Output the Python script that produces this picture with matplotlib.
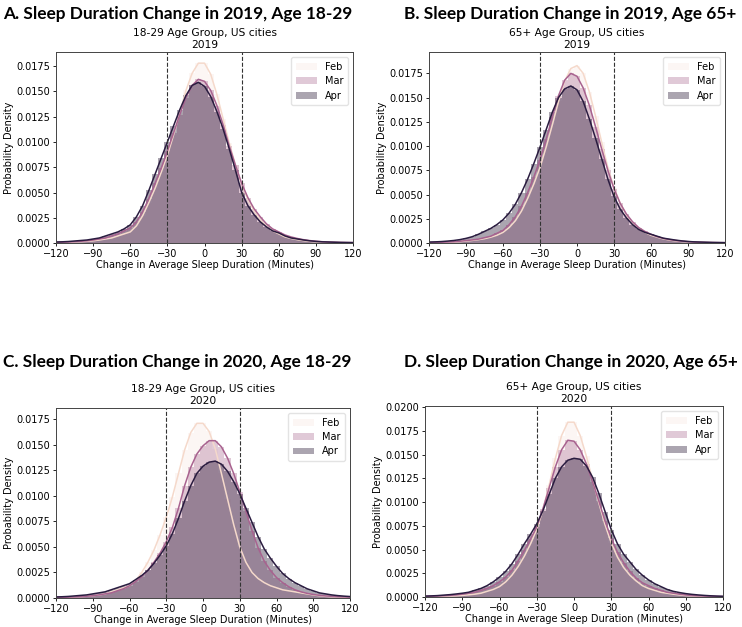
import numpy as np
import matplotlib
matplotlib.use('Agg')
import matplotlib.pyplot as plt

# 変化量（分）: -120〜120 を5分刻み
minutes = list(range(-120, 125, 5))

# ===== A: 2019, 18-29 =====
a_feb = [0.00005, 0.00006, 0.00008, 0.0001, 0.00013, 0.00017, 0.00022, 0.0003, 0.0004, 0.0005,
         0.0007, 0.0009, 0.0011, 0.0017, 0.0027, 0.0040, 0.0054, 0.0070, 0.0087, 0.0107,
         0.0129, 0.0151, 0.0168, 0.0178, 0.0178, 0.0167, 0.0147, 0.0123, 0.0099, 0.0077,
         0.0058, 0.0043, 0.0032, 0.0023, 0.0017, 0.0012, 0.0009, 0.0006, 0.00045, 0.00033,
         0.00024, 0.00017, 0.00012, 0.00009, 0.00007, 0.00005, 0.00004, 0.00003, 0.00003]
a_mar = [0.00006, 0.00008, 0.0001, 0.00013, 0.00017, 0.00022, 0.0003, 0.0004, 0.0005, 0.0007,
         0.0009, 0.0012, 0.0015, 0.0021, 0.0031, 0.0044, 0.0059, 0.0074, 0.0091, 0.0109,
         0.0127, 0.0144, 0.0156, 0.0162, 0.0160, 0.0151, 0.0136, 0.0117, 0.0096, 0.0077,
         0.0059, 0.0045, 0.0034, 0.0026, 0.0019, 0.0014, 0.0011, 0.0008, 0.0006, 0.00045,
         0.00033, 0.00024, 0.00018, 0.00013, 0.0001, 0.00008, 0.00006, 0.00005, 0.00004]
a_apr = [0.0001, 0.00012, 0.00015, 0.0002, 0.00025, 0.0003, 0.0004, 0.0005, 0.0007, 0.0009,
         0.0011, 0.0014, 0.0018, 0.0026, 0.0037, 0.0052, 0.0068, 0.0084, 0.0100, 0.0116,
         0.0132, 0.0146, 0.0156, 0.0159, 0.0155, 0.0145, 0.0130, 0.0113, 0.0093, 0.0072,
         0.0050, 0.0037, 0.0028, 0.0021, 0.0016, 0.0012, 0.0010, 0.0007, 0.0005, 0.0004,
         0.0003, 0.00022, 0.00016, 0.00012, 0.0001, 0.00008, 0.00006, 0.00005, 0.00004]

# ===== B: 2019, 65+ =====
b_feb = [0.00004, 0.00005, 0.00006, 0.00008, 0.0001, 0.00014, 0.0002, 0.00027, 0.00035, 0.00045,
         0.0006, 0.0008, 0.0011, 0.0016, 0.0023, 0.0033, 0.0046, 0.0061, 0.0078, 0.0099,
         0.0122, 0.0146, 0.0167, 0.0180, 0.0183, 0.0175, 0.0156, 0.0131, 0.0104, 0.0078,
         0.0057, 0.0041, 0.0029, 0.0021, 0.0015, 0.0011, 0.0008, 0.0006, 0.00043, 0.00031,
         0.00022, 0.00016, 0.00012, 0.00009, 0.00007, 0.00005, 0.00004, 0.00003, 0.00003]
b_mar = [0.00005, 0.00006, 0.00008, 0.0001, 0.00013, 0.00018, 0.00025, 0.00032, 0.0004, 0.00055,
         0.0007, 0.0010, 0.0013, 0.0019, 0.0027, 0.0038, 0.0052, 0.0068, 0.0086, 0.0107,
         0.0130, 0.0152, 0.0168, 0.0175, 0.0172, 0.0160, 0.0142, 0.0120, 0.0097, 0.0075,
         0.0056, 0.0041, 0.0030, 0.0022, 0.0016, 0.0012, 0.0009, 0.00065, 0.00048, 0.00035,
         0.00026, 0.00019, 0.00014, 0.0001, 0.00008, 0.00006, 0.00005, 0.00004, 0.00003]
b_apr = [0.0001, 0.00012, 0.00015, 0.0002, 0.00026, 0.00035, 0.00048, 0.00065, 0.0009, 0.0012,
         0.0015, 0.0019, 0.0024, 0.0031, 0.0040, 0.0052, 0.0066, 0.0082, 0.0099, 0.0117,
         0.0135, 0.0150, 0.0159, 0.0162, 0.0158, 0.0146, 0.0128, 0.0108, 0.0087, 0.0066,
         0.0048, 0.0035, 0.0026, 0.0019, 0.0014, 0.0011, 0.0009, 0.0007, 0.0005, 0.0004,
         0.0003, 0.00022, 0.00016, 0.00012, 0.0001, 0.00008, 0.00006, 0.00005, 0.00004]

# ===== C: 2020, 18-29 =====
c_feb = [0.00005, 0.00006, 0.00008, 0.0001, 0.00013, 0.00017, 0.00022, 0.0003, 0.0004, 0.0006,
         0.0008, 0.0010, 0.0012, 0.0017, 0.0025, 0.0035, 0.0047, 0.0062, 0.0079, 0.0099,
         0.0122, 0.0145, 0.0162, 0.0171, 0.0171, 0.0163, 0.0146, 0.0122, 0.0097, 0.0072,
         0.0050, 0.0035, 0.0025, 0.0019, 0.0015, 0.0012, 0.0010, 0.0008, 0.0007, 0.0006,
         0.0005, 0.0004, 0.0003, 0.00022, 0.00016, 0.00012, 0.0001, 0.00008, 0.00006]
c_mar = [0.00005, 0.00006, 0.00008, 0.0001, 0.00013, 0.00017, 0.00022, 0.0003, 0.0004, 0.0005,
         0.0007, 0.0009, 0.0012, 0.0016, 0.0021, 0.0027, 0.0035, 0.0044, 0.0055, 0.0069,
         0.0088, 0.0110, 0.0128, 0.0141, 0.0149, 0.0154, 0.0154, 0.0148, 0.0137, 0.0122,
         0.0104, 0.0085, 0.0066, 0.0049, 0.0036, 0.0027, 0.0020, 0.0015, 0.0011, 0.0008,
         0.0006, 0.00045, 0.00034, 0.00026, 0.0002, 0.00016, 0.00012, 0.0001, 0.00008]
c_apr = [0.0001, 0.00012, 0.00015, 0.0002, 0.00025, 0.0003, 0.0004, 0.0005, 0.0006, 0.0008,
         0.0010, 0.0012, 0.0014, 0.0018, 0.0022, 0.0027, 0.0034, 0.0042, 0.0051, 0.0063,
         0.0078, 0.0095, 0.0110, 0.0122, 0.0129, 0.0133, 0.0134, 0.0131, 0.0124, 0.0114,
         0.0102, 0.0088, 0.0074, 0.0060, 0.0048, 0.0039, 0.0031, 0.0024, 0.0019, 0.0015,
         0.0012, 0.0009, 0.0007, 0.0005, 0.0004, 0.0003, 0.00023, 0.00018, 0.00014]

# ===== D: 2020, 65+ =====
d_feb = [0.00004, 0.00005, 0.00006, 0.00008, 0.0001, 0.00013, 0.00017, 0.00023, 0.0003, 0.0004,
         0.0006, 0.0008, 0.0011, 0.0016, 0.0023, 0.0032, 0.0043, 0.0056, 0.0071, 0.0092,
         0.0118, 0.0146, 0.0170, 0.0184, 0.0184, 0.0170, 0.0148, 0.0123, 0.0099, 0.0076,
         0.0057, 0.0042, 0.0031, 0.0023, 0.0017, 0.0012, 0.0009, 0.0007, 0.0005, 0.0004,
         0.0003, 0.00022, 0.00016, 0.00012, 0.00009, 0.00007, 0.00005, 0.00004, 0.00003]
d_mar = [0.00006, 0.00008, 0.0001, 0.00013, 0.00017, 0.00022, 0.0003, 0.0004, 0.0005, 0.0007,
         0.0009, 0.0012, 0.0016, 0.0021, 0.0028, 0.0038, 0.0049, 0.0061, 0.0074, 0.0093,
         0.0115, 0.0137, 0.0155, 0.0165, 0.0164, 0.0155, 0.0140, 0.0121, 0.0101, 0.0080,
         0.0062, 0.0047, 0.0036, 0.0027, 0.0020, 0.0015, 0.0012, 0.0009, 0.0007, 0.0005,
         0.0004, 0.0003, 0.00022, 0.00016, 0.00012, 0.0001, 0.00008, 0.00006, 0.00005]
d_apr = [0.0001, 0.00012, 0.00015, 0.0002, 0.00025, 0.00032, 0.0004, 0.0005, 0.0007, 0.0009,
         0.0012, 0.0016, 0.0021, 0.0027, 0.0035, 0.0045, 0.0056, 0.0066, 0.0077, 0.0091,
         0.0108, 0.0125, 0.0137, 0.0144, 0.0146, 0.0145, 0.0138, 0.0126, 0.0109, 0.0090,
         0.0071, 0.0056, 0.0045, 0.0037, 0.0029, 0.0023, 0.0018, 0.0014, 0.0011, 0.0008,
         0.0006, 0.00047, 0.00036, 0.00028, 0.00022, 0.00017, 0.00013, 0.0001, 0.00008]

months = ['Feb', 'Mar', 'Apr']
hist_colors = ['#f8e6e0', '#b27a9d', '#2e1e3b']
hist_alpha = [0.35, 0.4, 0.4]
line_colors = ['#f5d9cb', '#a8628f', '#2a1c40']

panels = [
    ('A. Sleep Duration Change in 2019, Age 18-29', '18-29 Age Group, US cities\n2019',
     [a_feb, a_mar, a_apr], 0.0189, [0.0755, 0.6124, 0.4003, 0.3046], (3, 14)),
    ('B. Sleep Duration Change in 2019, Age 65+', '65+ Age Group, US cities\n2019',
     [b_feb, b_mar, b_apr], 0.0197, [0.5782, 0.6124, 0.3989, 0.3046], (404, 14)),
    ('C. Sleep Duration Change in 2020, Age 18-29', '18-29 Age Group, US cities\n2020',
     [c_feb, c_mar, c_apr], 0.0186, [0.0755, 0.0463, 0.3962, 0.3030], (3, 362)),
    ('D. Sleep Duration Change in 2020, Age 65+', '65+ Age Group, US cities\n2020',
     [d_feb, d_mar, d_apr], 0.0201, [0.5728, 0.0478, 0.4016, 0.3046], (404, 362)),
]

W, H = 742, 627
fig = plt.figure(figsize=(W / 100, H / 100), dpi=100)

for big_title, sub_title, series, ymax, rect, (tx, ty) in panels:
    ax = fig.add_axes(rect)
    for name, vals, hc, ha_, lc in zip(months, series, hist_colors, hist_alpha, line_colors):
        ax.bar(minutes, vals, width=5, color=hc, alpha=ha_, linewidth=0, label=name)
        ax.plot(minutes, vals, color=lc, lw=1.1)
    ax.axvline(-30, color='#333333', ls='--', lw=0.8)
    ax.axvline(30, color='#333333', ls='--', lw=0.8)
    ax.set_xlim(-120, 120)
    ax.set_ylim(0, ymax)
    ax.set_xticks(range(-120, 121, 30))
    ax.set_yticks(np.arange(0, ymax, 0.0025))
    ax.yaxis.set_major_formatter(matplotlib.ticker.FormatStrFormatter('%.4f'))
    ax.tick_params(labelsize=7, length=2.5, width=0.6, pad=1.5)
    for s in ax.spines.values():
        s.set_linewidth(0.7)
        s.set_color('#444444')
    ax.set_xlabel('Change in Average Sleep Duration (Minutes)', fontsize=7, labelpad=1)
    ax.set_ylabel('Probability Density', fontsize=7, labelpad=2)
    ax.set_title(sub_title, fontsize=7.7, pad=3, linespacing=1.25)
    ax.legend(loc='upper right', fontsize=7, frameon=True, handlelength=2.2,
              borderpad=0.5, labelspacing=0.45, edgecolor='#dddddd')
    fig.text(tx / W, 1 - ty / H, big_title, fontsize=12.4, fontweight='bold',
             family='Lato', ha='left', va='center')

fig.savefig('out.png', dpi=100)
